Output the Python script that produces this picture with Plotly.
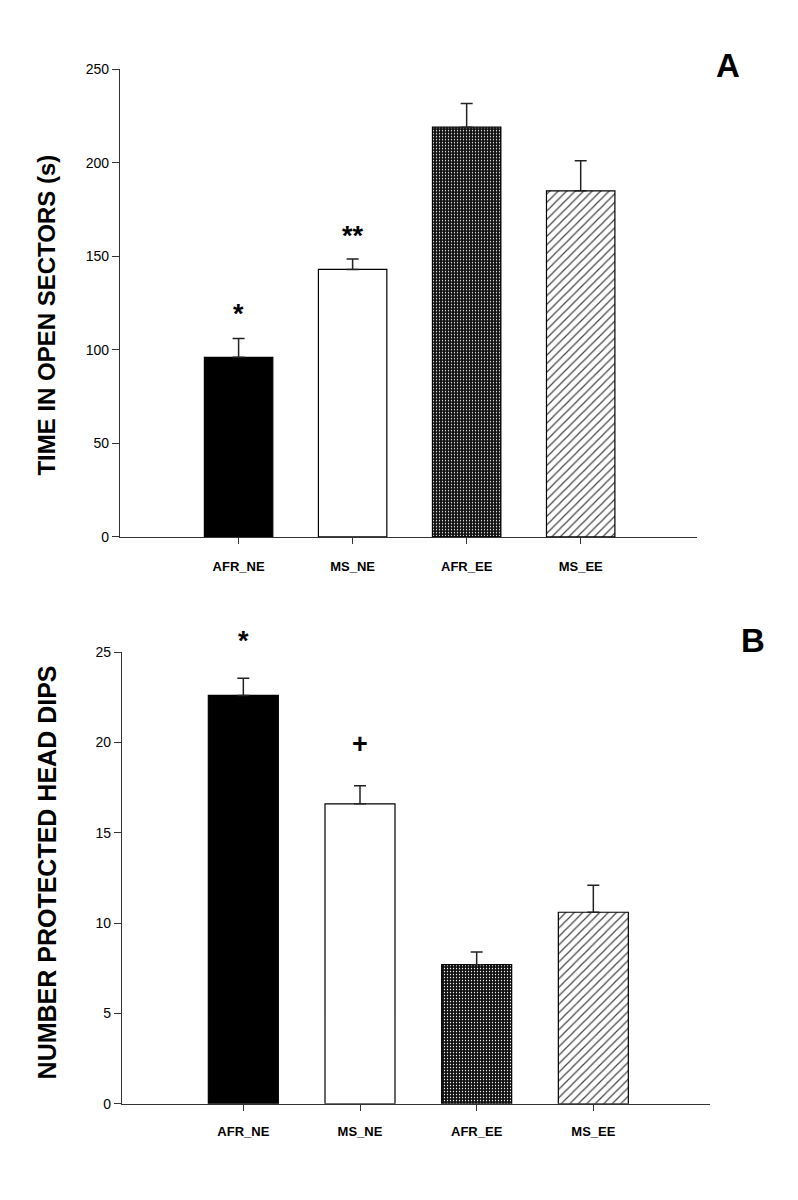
import plotly.graph_objects as go

categories = ["AFR_NE", "MS_NE", "AFR_EE", "MS_EE"]

time_open = [96, 143, 219, 185]
time_open_se = [10, 5.5, 12.7, 16]

head_dips = [22.6, 16.6, 7.7, 10.6]
head_dips_se = [0.95, 1.0, 0.7, 1.5]

yticks_a = [0, 50, 100, 150, 200, 250]
yticks_b = [0, 5, 10, 15, 20, 25]

sig_a = [("AFR_NE", 119, "*"), ("MS_NE", 161, "**")]
sig_b = [("AFR_NE", 25.6, "*"), ("MS_NE", 19.9, "+")]

# page has an 8px body margin: build the figure to fit inside it
OFF = 8
W, H = 798 - 2 * OFF, 1200 - 2 * OFF
FONT = "Liberation Sans, Arial, sans-serif"
VK = 0.985  # observed vertical compression of the captured page


def px(x):
    return (x - OFF) / W


def py(y):
    y = 600 + (y - 600) / VK
    return 1 - (y - OFF) / H


styles = [
    dict(color="black", pattern=dict(shape="")),
    dict(color="white", pattern=dict(shape="")),
    dict(color="#111111", pattern=dict(shape=".", bgcolor="#111111",
                                       fgcolor="white", size=3, solidity=0.15,
                                       fillmode="replace")),
    dict(color="white", pattern=dict(shape="/", bgcolor="white",
                                     fgcolor="#444444", size=6, solidity=0.2,
                                     fillmode="replace")),
]

fig = go.Figure()
for vals, errs, xa, ya in [(time_open, time_open_se, "x", "y"),
                           (head_dips, head_dips_se, "x2", "y2")]:
    for i, cat in enumerate(categories):
        st = styles[i]
        fig.add_trace(go.Bar(
            x=[cat], y=[vals[i]], width=0.6,
            marker=dict(color=st["color"], pattern=st["pattern"],
                        line=dict(color="black", width=1.2)),
            error_y=dict(type="data", symmetric=False, array=[errs[i]],
                         arrayminus=[0], color="#222", thickness=1.5, width=6),
            xaxis=xa, yaxis=ya, showlegend=False,
        ))

axis_common = dict(showline=True, linecolor="#333", linewidth=1.3,
                   ticks="outside", tickcolor="#333", showgrid=False,
                   zeroline=False)

fig.update_layout(
    width=W, height=H, barmode="overlay",
    margin=dict(l=0, r=0, t=0, b=0),
    paper_bgcolor="white", plot_bgcolor="white",
    font=dict(family=FONT, color="black"),
    xaxis=dict(domain=[px(120), px(697)], anchor="y", range=[-1.04, 4.02],
               tickfont=dict(size=13), ticklen=6, ticklabelstandoff=11,
               **axis_common),
    yaxis=dict(domain=[py(537), py(70)], anchor="x", range=[0, 250],
               tickvals=yticks_a, tickfont=dict(size=14), ticklen=7,
               **axis_common),
    xaxis2=dict(domain=[px(122), px(710)], anchor="y2", range=[-1.04, 4.0],
                tickfont=dict(size=13), ticklen=6, ticklabelstandoff=9,
                **axis_common),
    yaxis2=dict(domain=[py(1103), py(652)], anchor="x2", range=[0, 25],
                tickvals=yticks_b, tickfont=dict(size=14), ticklen=7,
                **axis_common),
)

fig.update_xaxes(tickvals=categories,
                 ticktext=["<b>%s</b>" % c for c in categories])

ann = []
for cat, yv, txt in sig_a:
    ann.append(dict(x=cat, y=yv, xref="x", yref="y", text="<b>%s</b>" % txt,
                    xanchor="center", yanchor="middle",
                    showarrow=False, font=dict(size=27)))
for cat, yv, txt in sig_b:
    ann.append(dict(x=cat, y=yv / 25, xref="x2", yref="y2 domain",
                    text="<b>%s</b>" % txt, xanchor="center", yanchor="middle",
                    showarrow=False, font=dict(size=27)))

ann.append(dict(x=px(47), y=py(316), xref="paper", yref="paper",
                xanchor="center", yanchor="middle",
                text="<b>TIME IN OPEN SECTORS (s)</b>", textangle=-90,
                showarrow=False, font=dict(size=24)))
ann.append(dict(x=px(47), y=py(872), xref="paper", yref="paper",
                xanchor="center", yanchor="middle",
                text="<b>NUMBER PROTECTED HEAD DIPS</b>", textangle=-90,
                showarrow=False, font=dict(size=25)))
ann.append(dict(x=px(728), y=py(66), xref="paper", yref="paper",
                xanchor="center", yanchor="middle",
                text="<b>A</b>", showarrow=False, font=dict(size=33)))
ann.append(dict(x=px(753), y=py(640), xref="paper", yref="paper",
                xanchor="center", yanchor="middle",
                text="<b>B</b>", showarrow=False, font=dict(size=33)))

fig.update_layout(annotations=ann)

fig.write_html("out.html")
